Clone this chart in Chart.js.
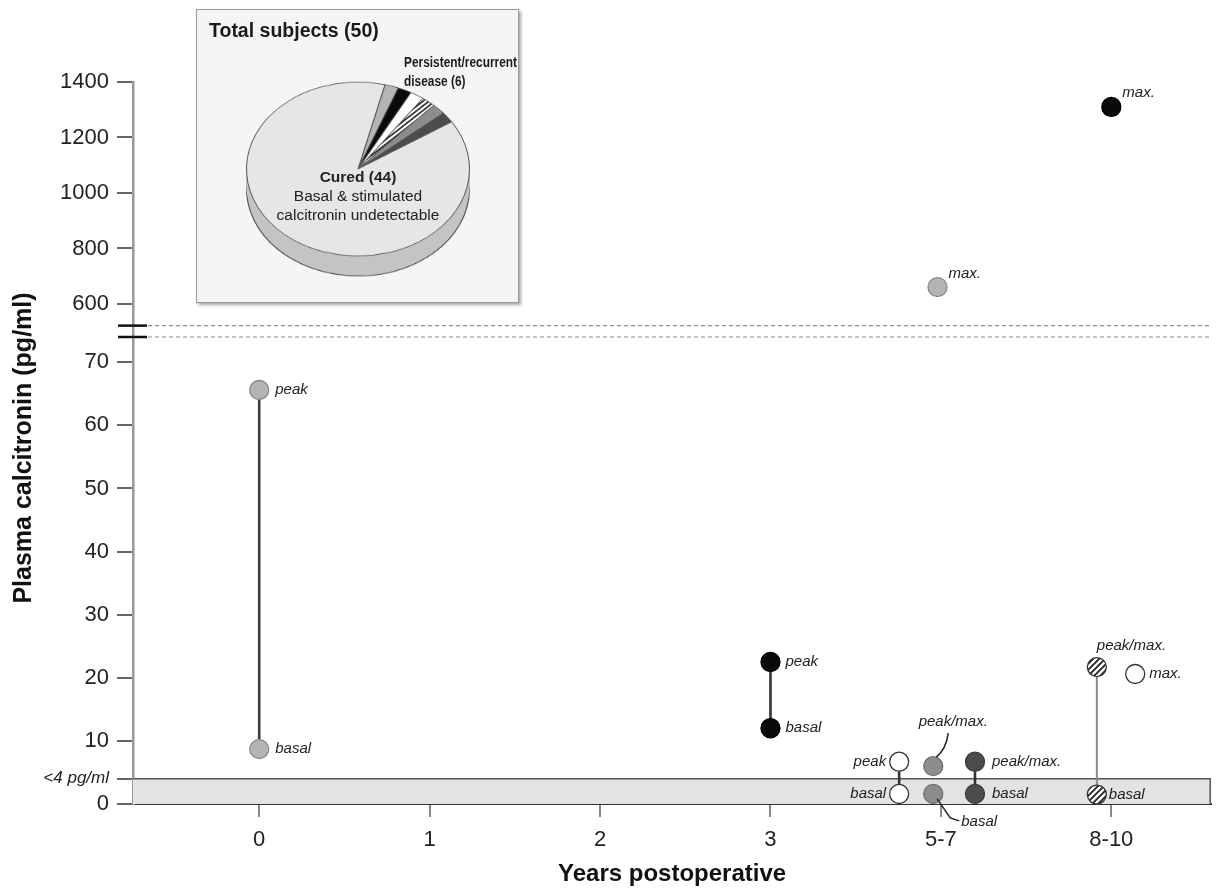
<!DOCTYPE html>
<html><head><meta charset="utf-8">
<script src="https://cdn.jsdelivr.net/npm/chart.js@4.4.1/dist/chart.umd.min.js"></script>
<style>
html,body{margin:0;padding:0;background:#fff;}
#wrap{position:relative;width:1222px;height:890px;font-family:"Liberation Sans",Arial,Helvetica,sans-serif;color:#1a1a1a;}
#main{position:absolute;left:0;top:0;}
#inset{position:absolute;left:196px;top:9px;width:321px;height:292px;background:#f5f5f5;border:1px solid #9a9a9a;box-shadow:2px 2px 3px rgba(0,0,0,0.35);z-index:2;}
.pie{position:absolute;left:48px;top:46px;transform:scaleY(0.78);}
#insetTitle{position:absolute;left:12px;top:9px;font-weight:bold;font-size:19.5px;z-index:5;}
#persist{position:absolute;left:207px;top:43px;font-weight:bold;font-size:14.5px;line-height:19px;z-index:5;transform:scaleX(0.82);transform-origin:0 0;white-space:nowrap;}
#cured{position:absolute;left:61px;top:157px;width:200px;text-align:center;font-size:15.5px;line-height:19px;z-index:5;color:#222;}
</style></head>
<body>
<div id="wrap">
<canvas id="main" width="1222" height="890"></canvas>
<div id="inset">
  <canvas id="pieSide3" class="pie" width="226" height="226" style="top:66px"></canvas>
  <canvas id="pieSide2" class="pie" width="226" height="226" style="top:59px"></canvas>
  <canvas id="pieSide1" class="pie" width="226" height="226" style="top:52px"></canvas>
  <canvas id="pieFace" class="pie" width="226" height="226"></canvas>
  <div id="insetTitle">Total subjects (50)</div>
  <div id="persist">Persistent/recurrent<br>disease (6)</div>
  <div id="cured"><b>Cured (44)</b><br>Basal &amp; stimulated<br>calcitronin undetectable</div>
</div>
</div>
<script>
// ---------- data ----------
const xLabels = ['0', '1', '2', '3', '5-7', '8-10'];
const xTickValues = [0, 1, 2, 3, 4, 5];
const yLowTicks = [0, 4, 10, 20, 30, 40, 50, 60, 70];
const yHighTicks = [600, 800, 1000, 1200, 1400];
const detectLimit = 4;
const limitLabel = '<4 pg/ml';
const breakLow = 74;      // top of lower panel
const breakHigh = 522;    // bottom dashed line of upper panel

// patients (x = time group, y = calcitonin pg/ml)
const grayLightLow  = [{x: 0, y: 65.6}, {x: 0, y: 8.7}];
const grayLightHigh = [{x: 3.98, y: 661}];
const blackLow      = [{x: 3, y: 22.5}, {x: 3, y: 12}];
const blackHigh     = [{x: 5.0, y: 1310}];
const whiteLow      = [{x: 3.755, y: 6.7}, {x: 3.755, y: 1.6}];
const whiteMax      = [{x: 5.14, y: 20.6}];
const grayMidLow    = [{x: 3.955, y: 6.0}, {x: 3.955, y: 1.6}];
const grayDarkLow   = [{x: 4.2, y: 6.7}, {x: 4.2, y: 1.6}];
const hatchedLow    = [{x: 4.915, y: 21.7}, {x: 4.915, y: 1.5}];

const peakBasal = ['peak', 'basal'];
const peakMaxBasal = ['peak/max.', 'basal'];
const maxLabel = ['max.'];

const pieLabels = ['P1', 'P2', 'P3', 'P4', 'P5', 'P6', 'Cured'];
const pieCounts = [1, 1, 1, 1, 1, 1, 44];

// ---------- styles ----------
function hatch() {
  const c = document.createElement('canvas'); c.width = 6; c.height = 6;
  const g = c.getContext('2d');
  g.fillStyle = '#fff'; g.fillRect(0, 0, 6, 6);
  g.strokeStyle = '#222'; g.lineWidth = 1.8;
  g.beginPath(); g.moveTo(-1, 7); g.lineTo(7, -1);
  g.moveTo(-1, 1); g.lineTo(1, -1); g.moveTo(5, 7); g.lineTo(7, 5); g.stroke();
  return g.createPattern(c, 'repeat');
}
const HATCH = hatch();
const C = {light: '#b4b4b4', black: '#0a0a0a', white: '#ffffff', mid: '#8c8c8c', dark: '#4c4c4c'};

function pts(data, axis, fill, border, line, lineColor, lineWidth) {
  return {
    data, yAxisID: axis, showLine: !!line,
    borderColor: lineColor || '#333', borderWidth: lineWidth || 2.5,
    pointRadius: 9.5, pointHoverRadius: 9.5,
    pointBackgroundColor: fill, pointBorderColor: border, pointBorderWidth: 1.3
  };
}
const datasets = [
  pts(grayLightLow, 'yLow', C.light, '#8a8a8a', true, '#3a3a3a', 2.6),
  pts(grayLightHigh, 'yHigh', C.light, '#8a8a8a'),
  pts(blackLow, 'yLow', C.black, '#000', true, '#333', 2.6),
  pts(blackHigh, 'yHigh', C.black, '#000'),
  pts(whiteLow, 'yLow', C.white, '#333', true, '#333', 2.6),
  pts(whiteMax, 'yLow', C.white, '#333'),
  pts(grayMidLow, 'yLow', C.mid, '#707070'),
  pts(grayDarkLow, 'yLow', C.dark, '#3a3a3a', true, '#333', 2.6),
  pts(hatchedLow, 'yLow', HATCH, '#333', true, '#8a8a8a', 2)
];

// label placement: [datasetIndex, pointIndex, text, dx, dy, align]
const labelSpecs = [
  [0, 0, peakBasal[0], 16, 0, 'left'], [0, 1, peakBasal[1], 16, 0, 'left'],
  [1, 0, maxLabel[0], 11, -13, 'left'],
  [2, 0, peakBasal[0], 15, 0, 'left'], [2, 1, peakBasal[1], 15, 0, 'left'],
  [3, 0, maxLabel[0], 11, -14, 'left'],
  [4, 0, peakBasal[0], -13, 0, 'right'], [4, 1, peakBasal[1], -13, 0, 'right'],
  [5, 0, maxLabel[0], 14, 0, 'left'],
  [6, 0, peakMaxBasal[0], 20, -44, 'center'], [6, 1, peakMaxBasal[1], 28, 28, 'left'],
  [7, 0, peakMaxBasal[0], 17, 0, 'left'], [7, 1, peakMaxBasal[1], 17, 0, 'left'],
  [8, 0, peakMaxBasal[0], 0, -21, 'left'], [8, 1, peakMaxBasal[1], 12, 0, 'left']
];

const decor = {
  id: 'decor',
  beforeDatasetsDraw(chart) {
    const {ctx, chartArea: a, scales} = chart;
    const yl = scales.yLow, yh = scales.yHigh;
    const y0 = yl.getPixelForValue(0), y4 = yl.getPixelForValue(detectLimit);
    ctx.save();
    ctx.fillStyle = '#e3e3e3';
    ctx.fillRect(a.left, y4, a.right - a.left, y0 - y4);
    ctx.strokeStyle = '#555'; ctx.lineWidth = 1.5;
    ctx.beginPath();
    ctx.moveTo(a.left, y4); ctx.lineTo(a.right - 1, y4); ctx.lineTo(a.right - 1, y0);
    ctx.stroke();
    // break dashed lines
    ctx.strokeStyle = '#8a8a8a'; ctx.lineWidth = 1.2; ctx.setLineDash([4, 3]);
    [yh.getPixelForValue(breakHigh), yl.getPixelForValue(breakLow)].forEach(y => {
      ctx.beginPath(); ctx.moveTo(a.left + 8, y); ctx.lineTo(a.right, y); ctx.stroke();
    });
    ctx.restore();
  },
  afterDraw(chart) {
    const {ctx, chartArea: a, scales} = chart;
    const yl = scales.yLow, yh = scales.yHigh;
    ctx.save();
    // axis break marks
    ctx.strokeStyle = '#111'; ctx.lineWidth = 2.5;
    [yh.getPixelForValue(breakHigh), yl.getPixelForValue(breakLow)].forEach(y => {
      ctx.beginPath(); ctx.moveTo(a.left - 15, y); ctx.lineTo(a.left + 14, y); ctx.stroke();
    });
    // y title
    ctx.fillStyle = '#111';
    ctx.font = 'bold 25px "Liberation Sans", Arial, sans-serif';
    ctx.translate(24, (a.top + a.bottom) / 2 + 5);
    ctx.rotate(-Math.PI / 2);
    ctx.textAlign = 'center'; ctx.textBaseline = 'middle';
    ctx.fillText('Plasma calcitronin (pg/ml)', 0, 0);
    ctx.restore();
  },
  afterDatasetsDraw(chart) {
    const {ctx} = chart;
    ctx.save();
    ctx.font = 'italic 15px "Liberation Sans", Arial, sans-serif';
    ctx.fillStyle = '#222'; ctx.textBaseline = 'middle';
    labelSpecs.forEach(([d, i, t, dx, dy, al]) => {
      const el = chart.getDatasetMeta(d).data[i];
      ctx.textAlign = al;
      ctx.fillText(t, el.x + dx, el.y + dy);
    });
    // leader lines for mid-gray patient
    const p = chart.getDatasetMeta(6).data[0], b = chart.getDatasetMeta(6).data[1];
    ctx.strokeStyle = '#222'; ctx.lineWidth = 1.5;
    ctx.beginPath();
    ctx.moveTo(p.x + 15, p.y - 33);
    ctx.quadraticCurveTo(p.x + 13, p.y - 17, p.x + 3, p.y - 9);
    ctx.stroke();
    ctx.beginPath();
    ctx.moveTo(b.x + 4, b.y + 5);
    ctx.lineTo(b.x + 17, b.y + 24);
    ctx.lineTo(b.x + 26, b.y + 27);
    ctx.stroke();
    ctx.restore();
  }
};

const tickFont = {size: 22, family: '"Liberation Sans", Arial, sans-serif'};
new Chart(document.getElementById('main'), {
  type: 'scatter',
  data: {datasets},
  options: {
    responsive: false, animation: false, events: [],
    layout: {padding: {left: 0, right: 4, top: 82, bottom: 0}},
    plugins: {legend: {display: false}, tooltip: {enabled: false}},
    scales: {
      x: {
        type: 'linear', min: -0.7405, max: 5.586,
        afterBuildTicks: s => { s.ticks = xTickValues.map(v => ({value: v})); },
        afterFit: s => { s.height = 86; },
        ticks: {callback: v => xLabels[v], font: tickFont, color: '#222', padding: 10, maxRotation: 0},
        grid: {drawOnChartArea: false, tickLength: 13, color: '#888', lineWidth: 2},
        border: {color: '#333', width: 2},
        title: {display: true, text: 'Years postoperative', font: {size: 24, weight: 'bold', family: '"Liberation Sans", Arial, sans-serif'}, color: '#111', padding: {top: 0, bottom: 1}}
      },
      yLow: {
        type: 'linear', position: 'left', stack: 'y', stackWeight: 467,
        min: 0, max: breakLow,
        afterBuildTicks: s => { s.ticks = yLowTicks.map(v => ({value: v})); },
        afterFit: s => { s.width = 133; },
        ticks: {
          callback: v => v === detectLimit ? limitLabel : String(v),
          font: c => (c.tick && c.tick.value === detectLimit) ? {size: 17, style: 'italic', family: '"Liberation Sans", Arial, sans-serif'} : tickFont,
          color: '#222', padding: 8
        },
        grid: {drawOnChartArea: false, tickLength: 16, color: '#666', lineWidth: 2},
        border: {color: '#9a9a9a', width: 2.5}
      },
      yHigh: {
        type: 'linear', position: 'left', stack: 'y', stackWeight: 255,
        min: 481, max: 1400,
        afterBuildTicks: s => { s.ticks = yHighTicks.map(v => ({value: v})); },
        afterFit: s => { s.width = 133; },
        ticks: {callback: v => String(v), font: tickFont, color: '#222', padding: 8},
        grid: {drawOnChartArea: false, tickLength: 16, color: '#666', lineWidth: 2},
        border: {color: '#9a9a9a', width: 2.5}
      }
    }
  },
  plugins: [decor]
});

// ---------- inset pie ----------
function makePie(id, colors, borderColor, borderWidth) {
  return new Chart(document.getElementById(id), {
    type: 'pie',
    data: {labels: pieLabels, datasets: [{data: pieCounts, backgroundColor: colors, borderColor, borderWidth}]},
    options: {responsive: false, animation: false, events: [], rotation: 14,
      layout: {padding: 1}, plugins: {legend: {display: false}, tooltip: {enabled: false}}}
  });
}
const sideColors = pieCounts.map(() => '#c4c4c4');
makePie('pieSide3', sideColors, '#555', 1.2);
makePie('pieSide2', sideColors, '#c4c4c4', 0);
makePie('pieSide1', sideColors, '#c4c4c4', 0);
makePie('pieFace', [C.light, C.black, C.white, HATCH, C.mid, C.dark, '#e6e6e6'], '#555', 1);
</script>
</body></html>
